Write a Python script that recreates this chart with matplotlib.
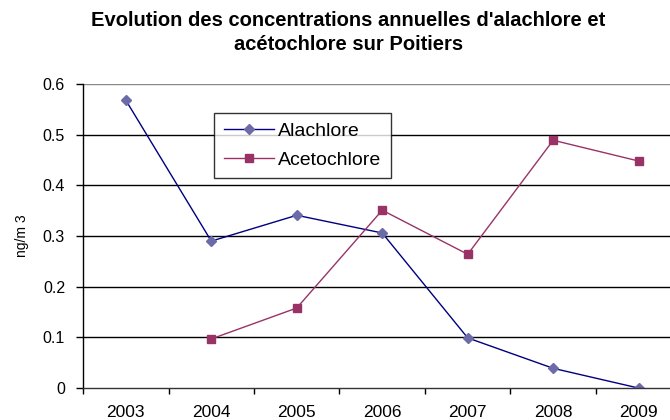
import numpy as np
import matplotlib
matplotlib.use("Agg")
import matplotlib.pyplot as plt

years = ["2003", "2004", "2005", "2006", "2007", "2008", "2009"]
alachlore = [0.568, 0.290, 0.341, 0.306, 0.099, 0.039, 0.0]
acetochlore = [np.nan, 0.097, 0.158, 0.351, 0.264, 0.489, 0.448]

plt.rcParams['font.family'] = ['Liberation Sans', 'DejaVu Sans']

fig = plt.figure(figsize=(6.7, 4.2), dpi=100)
ax = fig.add_axes([0.124, 0.076, 0.893, 0.724])

x = np.arange(len(years))
ax.plot(x, alachlore, '-', color='#000080', lw=1,
        marker='D', ms=5, mfc='#6B6BA8', mec='#6B6BA8', label='Alachlore')
ax.plot(x, acetochlore, '-', color='#993366', lw=1,
        marker='s', ms=5.5, mfc='#993366', mec='#993366', label='Acetochlore')

ax.set_xlim(-0.5, 6.5)
ax.set_ylim(0, 0.6)
ax.set_yticks(np.arange(0, 0.61, 0.1))
ax.set_yticklabels(['0', '0.1', '0.2', '0.3', '0.4', '0.5', '0.6'], fontsize=11.5)
for yv in np.arange(0.1, 0.55, 0.1):
    ax.axhline(yv, color='black', lw=1, zorder=0)
ax.axhline(0.6, color='#888888', lw=1, zorder=0)

ax.set_xticks(x)
ax.set_xticklabels(years, fontsize=12.5)
ax.set_xticks(np.arange(-0.5, 6.6, 1), minor=True)
ax.tick_params(axis='x', which='major', length=0, pad=12)
ax.tick_params(axis='x', which='minor', length=4, direction='out', width=1)
ax.tick_params(axis='y', length=5, direction='out', width=1, pad=8)

for s in ['top', 'right']:
    ax.spines[s].set_visible(False)
ax.spines['left'].set_linewidth(1)
ax.spines['bottom'].set_linewidth(1)
ax.spines['bottom'].set_color('#333333')

ax.set_ylabel('ng/m 3', fontsize=10, labelpad=10)

leg = ax.legend(loc='upper left', bbox_to_anchor=(0.219, 0.905), fontsize=14,
                frameon=True, fancybox=False, edgecolor='black',
                handlelength=2.6, handletextpad=0.2, borderpad=0.5,
                labelspacing=0.55, borderaxespad=0)
leg.get_frame().set_linewidth(1)

fig.text(0.52, 0.975, "Evolution des concentrations annuelles d'alachlore et\nacétochlore sur Poitiers",
         ha='center', va='top', fontsize=14.5, fontweight='bold', linespacing=1.4)

fig.savefig('out.png', dpi=100)
